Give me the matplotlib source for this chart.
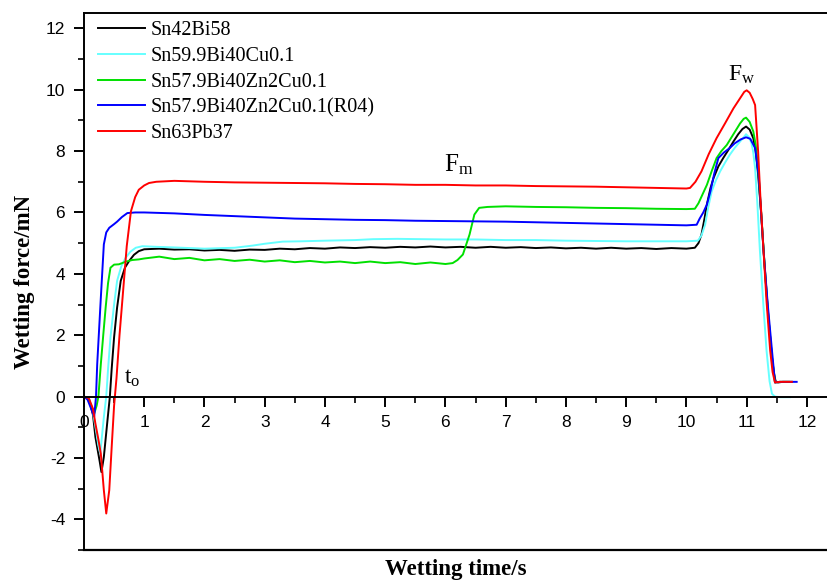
import matplotlib
matplotlib.use('Agg')
import matplotlib.pyplot as plt
from matplotlib.ticker import MultipleLocator

plt.rcParams['font.family'] = ['Liberation Sans', 'DejaVu Sans']
plt.rcParams['axes.unicode_minus'] = False
plt.rcParams['mathtext.fontset'] = 'custom'
plt.rcParams['mathtext.rm'] = 'Liberation Serif'
plt.rcParams['mathtext.it'] = 'Liberation Serif'

# wetting balance curves, force (mN) against time (s)
labels = ['Sn42Bi58', 'Sn59.9Bi40Cu0.1', 'Sn57.9Bi40Zn2Cu0.1',
          'Sn57.9Bi40Zn2Cu0.1(R04)', 'Sn63Pb37']
colors = ['#000000', '#66ffff', '#00e000', '#0000ff', '#ff0000']

t_black = [0, 0.08, 0.15, 0.19, 0.26, 0.29, 0.33, 0.39, 0.43, 0.46, 0.5, 0.55, 0.61, 0.68, 0.75, 0.83, 0.91,
           1.0, 1.25, 1.5, 1.75, 2.0, 2.25, 2.5, 2.75, 3.0, 3.25, 3.5, 3.75, 4.0, 4.25, 4.5, 4.75, 5.0,
           5.25, 5.5, 5.75, 6.0, 6.25, 6.5, 6.75, 7.0, 7.25, 7.5, 7.75, 8.0, 8.25, 8.5, 8.75, 9.0, 9.25,
           9.5, 9.75, 10.0, 10.14, 10.2, 10.25, 10.3, 10.34, 10.4, 10.45, 10.53, 10.61, 10.7, 10.78,
           10.86, 10.93, 10.99, 11.05, 11.11, 11.15, 11.19, 11.24, 11.3, 11.36, 11.42, 11.45, 11.48,
           11.52, 11.6, 11.75]
f_black = [0, -0.05, -0.6, -1.32, -2.1, -2.46, -1.97, -0.78, 0, 0.9, 1.93, 2.9, 3.77, 4.2, 4.42, 4.62, 4.74,
           4.8, 4.82, 4.79, 4.8, 4.76, 4.78, 4.75, 4.79, 4.78, 4.82, 4.8, 4.84, 4.82, 4.86, 4.84, 4.87,
           4.85, 4.88, 4.86, 4.89, 4.86, 4.88, 4.85, 4.88, 4.85, 4.87, 4.84, 4.86, 4.83, 4.85, 4.82, 4.85,
           4.82, 4.84, 4.81, 4.84, 4.82, 4.85, 5.0, 5.28, 5.8, 6.26, 6.8, 7.12, 7.5, 7.77, 8.05, 8.31,
           8.55, 8.72, 8.8, 8.7, 8.42, 8.0, 7.23, 6.0, 4.2, 2.6, 1.28, 0.8, 0.5, 0.46, 0.48, 0.48]

t_cyan = [0, 0.08, 0.14, 0.2, 0.24, 0.27, 0.33, 0.37, 0.4, 0.44, 0.5, 0.55, 0.62, 0.69, 0.77, 0.86, 0.97,
          1.2, 1.5, 2.0, 2.5, 2.8, 3.0, 3.3, 3.6, 4.0, 4.5, 4.8, 5.2, 5.6, 6.0, 6.5, 7.0, 7.5, 8.0, 8.5,
          9.0, 9.5, 10.0, 10.19, 10.25, 10.31, 10.36, 10.42, 10.49, 10.56, 10.64, 10.72, 10.8, 10.89,
          10.95, 10.99, 11.04, 11.08, 11.11, 11.14, 11.18, 11.22, 11.28, 11.33, 11.38, 11.42, 11.47,
          11.55, 11.72]
f_cyan = [0, -0.05, -0.4, -1.1, -1.6, -1.86, -0.67, 0, 0.9, 1.93, 3.0, 3.77, 4.25, 4.52, 4.72, 4.85, 4.9,
          4.88, 4.86, 4.82, 4.85, 4.92, 4.98, 5.05, 5.06, 5.08, 5.1, 5.13, 5.14, 5.13, 5.12, 5.12, 5.1,
          5.1, 5.08, 5.07, 5.06, 5.06, 5.06, 5.08, 5.25, 5.6, 6.15, 6.69, 7.05, 7.34, 7.62, 7.88, 8.1,
          8.31, 8.45, 8.55, 8.45, 8.26, 7.95, 7.44, 6.2, 4.74, 2.9, 1.5, 0.5, 0.09, 0.0, -0.02, -0.02]

t_green = [0, 0.06, 0.12, 0.17, 0.21, 0.24, 0.28, 0.32, 0.36, 0.4, 0.44, 0.5, 0.58, 0.7, 0.8, 0.91,
           1.0, 1.25, 1.5, 1.75, 2.0, 2.25, 2.5, 2.75, 3.0, 3.25, 3.5, 3.75, 4.0, 4.25, 4.5, 4.75, 5.0,
           5.25, 5.5, 5.75, 6.0, 6.12, 6.2, 6.29, 6.4, 6.48, 6.56, 6.7, 7.0, 7.5, 8.0, 8.5, 9.0, 9.5,
           10.0, 10.14, 10.2, 10.27, 10.34, 10.42, 10.5, 10.58, 10.67, 10.78, 10.89, 10.95, 10.99, 11.05,
           11.11, 11.15, 11.19, 11.24, 11.3, 11.36, 11.42, 11.47, 11.55, 11.7]
f_green = [0, -0.05, -0.3, -0.55, -0.3, 0, 1.06, 2.0, 2.9, 3.7, 4.2, 4.3, 4.31, 4.4, 4.45, 4.47,
           4.5, 4.56, 4.48, 4.52, 4.44, 4.48, 4.42, 4.46, 4.4, 4.44, 4.38, 4.42, 4.37, 4.4, 4.35, 4.4,
           4.35, 4.38, 4.32, 4.37, 4.32, 4.35, 4.45, 4.63, 5.28, 5.93, 6.15, 6.18, 6.2, 6.18, 6.17,
           6.15, 6.14, 6.12, 6.11, 6.12, 6.3, 6.6, 6.9, 7.35, 7.77, 8.0, 8.2, 8.55, 8.9, 9.05, 9.09,
           8.95, 8.64, 8.2, 7.44, 6.0, 4.2, 2.6, 1.28, 0.46, 0.48, 0.48]

t_blue = [0, 0.06, 0.12, 0.17, 0.2, 0.22, 0.28, 0.33, 0.37, 0.42, 0.5, 0.55, 0.63, 0.72, 0.85, 1.0, 1.5,
          2.0, 2.5, 3.0, 3.5, 4.0, 4.5, 5.0, 5.5, 6.0, 6.5, 7.0, 7.5, 8.0, 8.5, 9.0, 9.5, 10.0, 10.17,
          10.22, 10.28, 10.34, 10.4, 10.46, 10.53, 10.62, 10.72, 10.8, 10.9, 10.99, 11.06, 11.14, 11.2,
          11.28, 11.35, 11.42, 11.47, 11.55, 11.83]
f_blue = [0, -0.1, -0.4, -0.65, 0, 1.06, 3.22, 4.96, 5.35, 5.5, 5.62, 5.7, 5.85, 5.98, 6.0, 6.0, 5.97,
          5.92, 5.88, 5.84, 5.8, 5.78, 5.76, 5.75, 5.73, 5.72, 5.71, 5.7, 5.68, 5.66, 5.64, 5.62, 5.6,
          5.58, 5.6, 5.8, 6.0, 6.26, 6.7, 7.25, 7.77, 7.95, 8.1, 8.25, 8.38, 8.45, 8.4, 8.1, 7.2, 4.74,
          3.0, 1.5, 0.46, 0.48, 0.48]

t_red = [0, 0.08, 0.15, 0.19, 0.24, 0.28, 0.33, 0.37, 0.42, 0.46, 0.5, 0.54, 0.59, 0.64, 0.71, 0.78,
         0.85, 0.91, 1.0, 1.08, 1.2, 1.5, 2.0, 2.5, 3.0, 3.5, 4.0, 4.5, 5.0, 5.5, 6.0, 6.5, 7.0, 7.5,
         8.0, 8.5, 9.0, 9.5, 10.0, 10.06, 10.15, 10.25, 10.37, 10.5, 10.64, 10.78, 10.9, 10.96, 11.0,
         11.05, 11.1, 11.14, 11.19, 11.23, 11.28, 11.33, 11.39, 11.43, 11.47, 11.55, 11.75]
f_red = [0, -0.05, -0.4, -0.88, -1.4, -1.86, -3.05, -3.81, -3.05, -1.65, -0.3, 0.6, 2.0, 3.2, 4.9, 6.04,
         6.5, 6.74, 6.88, 6.96, 7.0, 7.03, 7.0, 6.98, 6.97, 6.96, 6.95, 6.93, 6.92, 6.9, 6.9, 6.88, 6.88,
         6.86, 6.85, 6.84, 6.82, 6.8, 6.78, 6.8, 7.0, 7.34, 7.9, 8.42, 8.9, 9.39, 9.75, 9.93, 9.98, 9.9,
         9.7, 9.5, 7.99, 6.4, 4.74, 3.1, 1.5, 0.8, 0.46, 0.48, 0.48]

series = [(t_black, f_black), (t_cyan, f_cyan), (t_green, f_green), (t_blue, f_blue), (t_red, f_red)]

fig = plt.figure(figsize=(8.28, 5.8), dpi=100)
ax = fig.add_axes([0.1014, 0.0517, 0.8986, 0.9259])

for (t, f), c, lab in zip(series, colors, labels):
    ax.plot(t, f, color=c, lw=1.4, label=lab)

ax.set_xlim(0, 12.35)
ax.set_ylim(-5, 12.5)

# x axis runs through zero force, frame kept at the bottom
ax.spines['bottom'].set_position(('data', 0))
ax.spines['right'].set_visible(False)
for s in ['left', 'top', 'bottom']:
    ax.spines[s].set_linewidth(1.4)
ax.axhline(-5, color='black', lw=1.6, clip_on=False)

ax.xaxis.set_major_locator(MultipleLocator(1))
ax.xaxis.set_minor_locator(MultipleLocator(0.5))
ax.yaxis.set_major_locator(MultipleLocator(2))
ax.yaxis.set_minor_locator(MultipleLocator(1))
ax.tick_params(which='major', direction='out', length=7, width=1.4, labelsize=12.5, pad=6.5)
ax.tick_params(which='minor', direction='out', length=4, width=1.2)

serif = ['Liberation Serif', 'DejaVu Serif']
ax.set_xlabel('Wetting time/s', family=serif, fontweight='bold', fontsize=16.5)
ax.set_ylabel('Wetting force/mN', family=serif, fontweight='bold', fontsize=16.5)
ax.xaxis.set_label_coords(0.5, -0.016)
ax.yaxis.set_label_coords(-0.066, 0.5)

ax.text(0.66, 0.6, r'$\mathrm{t_o}$', fontsize=17, ha='left', va='center')
ax.text(5.98, 7.56, r'$\mathrm{F_m}$', fontsize=18, ha='left', va='center')
ax.text(10.69, 10.5, r'$\mathrm{F_w}$', fontsize=17, ha='left', va='center')

ax.legend(loc='upper left', bbox_to_anchor=(0.0188, 0.985), frameon=False,
          prop={'family': serif, 'size': 14.5}, handlelength=2.33, handletextpad=0.28,
          labelspacing=0.33, borderaxespad=0.0, borderpad=0.0)

fig.savefig('out.png', dpi=100)
